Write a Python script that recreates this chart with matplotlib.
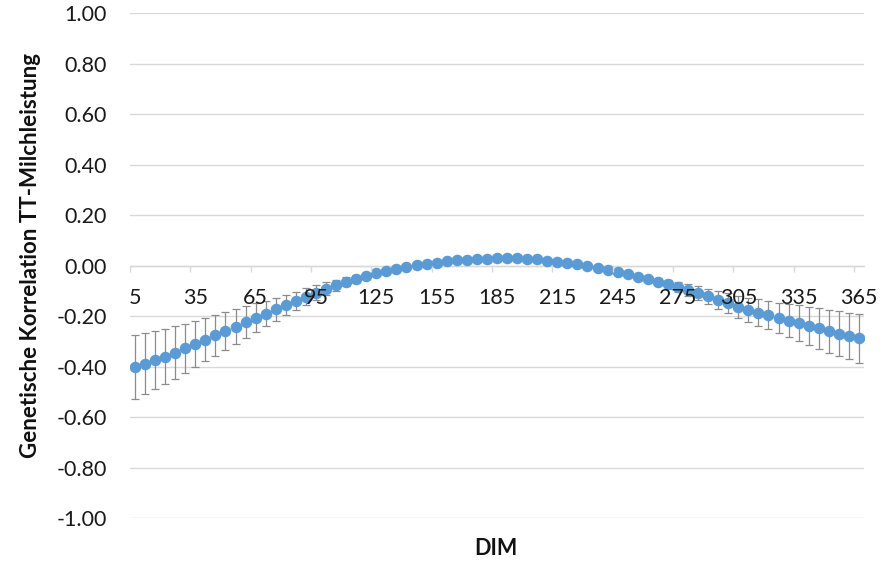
import numpy as np
import matplotlib
matplotlib.use("Agg")
import matplotlib.pyplot as plt

# days in milk, genetic correlation and its standard error
days = list(range(5, 366, 5))
corr = [-0.400, -0.388, -0.374, -0.360, -0.344, -0.327, -0.309, -0.292, -0.275, -0.259,
        -0.242, -0.224, -0.205, -0.189, -0.172, -0.155, -0.139, -0.122, -0.106, -0.091,
        -0.077, -0.064, -0.053, -0.042, -0.030, -0.020, -0.012, -0.005, 0.002, 0.008,
        0.013, 0.017, 0.021, 0.024, 0.026, 0.028, 0.029, 0.029, 0.029, 0.028,
        0.025, 0.020, 0.016, 0.011, 0.006, 0.000, -0.007, -0.015, -0.024, -0.033,
        -0.043, -0.053, -0.063, -0.073, -0.084, -0.096, -0.109, -0.121, -0.135, -0.148,
        -0.162, -0.174, -0.185, -0.195, -0.207, -0.217, -0.227, -0.238, -0.248, -0.260,
        -0.269, -0.277, -0.286]
err = [0.127, 0.120, 0.115, 0.110, 0.104, 0.097, 0.091, 0.087, 0.082, 0.075,
       0.069, 0.063, 0.057, 0.051, 0.046, 0.041, 0.037, 0.033, 0.029, 0.025,
       0.021, 0.018, 0.015, 0.012, 0.010, 0.009, 0.008, 0.007, 0.007, 0.006,
       0.006, 0.006, 0.006, 0.006, 0.006, 0.006, 0.006, 0.006, 0.006, 0.006,
       0.006, 0.006, 0.006, 0.006, 0.007, 0.007, 0.008, 0.008, 0.009, 0.010,
       0.011, 0.013, 0.015, 0.018, 0.021, 0.024, 0.027, 0.031, 0.035, 0.039,
       0.043, 0.047, 0.052, 0.057, 0.061, 0.066, 0.070, 0.075, 0.080, 0.084,
       0.088, 0.092, 0.097]
x_labels = list(range(5, 366, 30))
y_ticks = [-1.0, -0.8, -0.6, -0.4, -0.2, 0.0, 0.2, 0.4, 0.6, 0.8, 1.0]

plt.rcParams['font.family'] = ['Lato', 'DejaVu Sans']

fig = plt.figure(figsize=(8.92, 5.63), dpi=100)
ax = fig.add_axes([0.1457, 0.0794, 0.8229, 0.897])

grid_col = "#d9d9d9"
ax.errorbar(days, corr, yerr=err, fmt="none", ecolor="#8c8c8c",
            elinewidth=0.9, capsize=2.6, capthick=0.9, zorder=2)
ax.plot(days, corr, "o", color="#5B9BD5", markersize=7.3, zorder=3)

ax.set_xlim(2.5, 367.5)
ax.set_ylim(-1.0, 1.0)
ax.set_yticks(y_ticks)
ax.set_yticklabels([f"{v:.2f}" for v in y_ticks])
ax.yaxis.grid(True, color=grid_col, linewidth=1.0)
ax.set_axisbelow(True)
ax.xaxis.set_zorder(5)  # category labels sit on top of the markers

# x axis crosses at zero, excel style
for s in ["left", "right", "top"]:
    ax.spines[s].set_visible(False)
ax.spines["bottom"].set_position(("data", 0))
ax.spines["bottom"].set_color(grid_col)
ax.spines["bottom"].set_linewidth(1.0)

ax.set_xticks(x_labels)
ax.set_xticklabels([str(v) for v in x_labels])
ax.set_xticks(np.arange(2.5, 368, 30), minor=True)
ax.tick_params(axis="x", which="major", length=0, pad=16, labelsize=15.5, labelcolor="#1a1a1a")
ax.tick_params(axis="x", which="minor", length=4.5, width=1.0, color=grid_col, direction="out")
ax.tick_params(axis="y", length=0, pad=16.5, labelsize=15.5, labelcolor="#1a1a1a")

fig.text(0.034, 0.547, "Genetische Korrelation TT-Milchleistung", rotation=90,
         ha="center", va="center", fontsize=16, fontweight="bold", color="#111111")
fig.text(0.556, 0.025, "DIM", ha="center", va="center", fontsize=15.5,
         fontweight="bold", color="#111111")

fig.savefig("out.png", dpi=100)
